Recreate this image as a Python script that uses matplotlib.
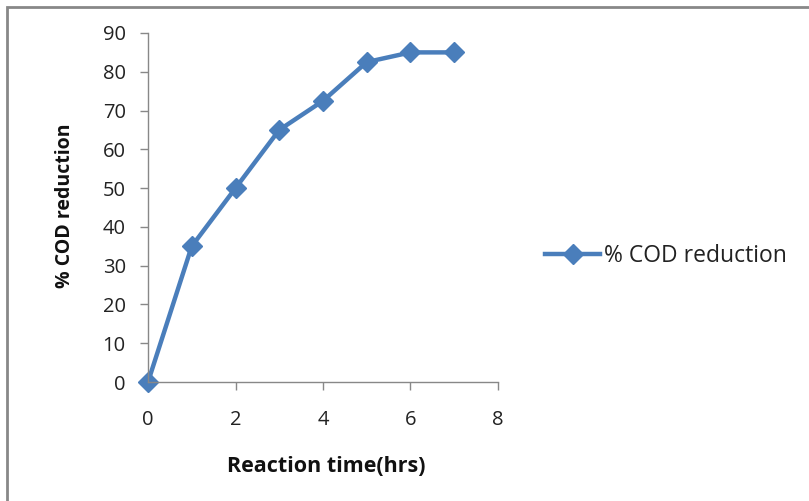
import matplotlib
matplotlib.use("Agg")
import matplotlib.pyplot as plt
from matplotlib.patches import Rectangle

time_hrs = [0, 1, 2, 3, 4, 5, 6, 7]
cod_reduction = [0, 35, 50, 65, 72.5, 82.5, 85, 85]
x_ticks = [0, 2, 4, 6, 8]
y_ticks = [0, 10, 20, 30, 40, 50, 60, 70, 80, 90]

plt.rcParams['font.family'] = ['Open Sans', 'DejaVu Sans']

W, H = 809, 501
fig = plt.figure(figsize=(W / 100, H / 100), dpi=100)
ax = fig.add_axes([148 / W, 1 - 382 / H, (498 - 148) / W, (382 - 33) / H])

color = '#4a7ebb'
ax.plot(time_hrs, cod_reduction, color=color, lw=3.2, marker='D', ms=10,
        label='% COD reduction', clip_on=False)

ax.set_xlim(0, 8)
ax.set_ylim(0, 90)
ax.set_xticks(x_ticks)
ax.set_yticks(y_ticks)
for s in ['top', 'right']:
    ax.spines[s].set_visible(False)
for s in ['left', 'bottom']:
    ax.spines[s].set_color('#888888')
    ax.spines[s].set_linewidth(1)
ax.tick_params(axis='both', direction='out', length=6, width=1, color='#888888',
               labelsize=14.5, labelcolor='#222222')
ax.tick_params(axis='x', pad=14)
ax.tick_params(axis='y', pad=10)

fig.text(326 / W, 1 - 466 / H, 'Reaction time(hrs)', ha='center', va='center',
         fontsize=15.5, fontweight='bold', color='#111111')
fig.text(65 / W, 1 - 206 / H, '% COD reduction', ha='center', va='center', rotation=90,
         fontsize=14, fontweight='bold', color='#111111')

fig.legend(loc='center left', bbox_to_anchor=(545 / W, 1 - 256 / H), frameon=False,
           fontsize=16.5, handlelength=2.4, handletextpad=0.18, borderpad=0,
           borderaxespad=0, labelcolor='#222222')

fig.patches.append(Rectangle((7 / W, -0.1), 1.2, (1 - 7 / H) + 0.1, transform=fig.transFigure,
                             fill=False, edgecolor='#888888', lw=2))

fig.savefig('out.png', dpi=100, facecolor='white')
